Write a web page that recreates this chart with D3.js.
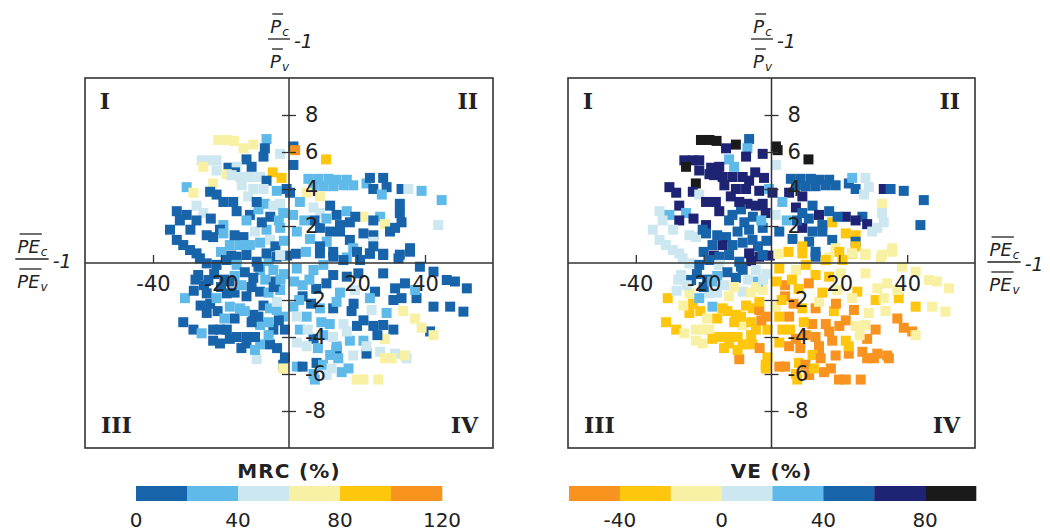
<!DOCTYPE html>
<html><head><meta charset="utf-8">
<script src="https://cdn.jsdelivr.net/npm/d3@7"></script>
<style>body{margin:0;background:#fff}svg{display:block}</style>
</head><body><svg id="c" width="1050" height="531"></svg>
<script>
// ---- data: [x (PE ratio -1, %), y (P ratio -1, %), MRC %, VE %] ----
const pointsQ1 = [[-20.8,6.65,70,90],[-18.3,6.65,70,90],[-16.2,6.6,70,90],[-13.4,6.2,70,70],[-10.5,6.4,70,90],[-6.6,6.7,30,50],[-7.1,6.2,10,30],[-2.6,5.9,50,70],[-7.5,5.75,10,70],[-12.5,5.6,10,30],[-25.7,5.55,50,70],[-23.2,5.55,50,70],[-21.3,5.55,50,70],[-25.2,5.2,70,90],[-17.8,5.15,10,70],[-15.4,5.2,50,70],[-11.0,5.2,10,30],[-21.3,5.0,50,70],[-15.9,4.9,10,70],[-4.8,4.9,90,70],[-2.2,4.6,90,70],[-18.3,4.8,70,70],[-16.9,4.75,50,70],[-14.4,4.65,50,70],[-11.5,4.65,50,70],[-8.5,4.65,50,70],[-6.6,4.45,10,70],[-22.3,4.3,70,90],[-13.9,4.2,50,70],[-30.1,4.1,30,70],[-28.1,3.8,70,70],[-10.5,4.0,50,70],[-7.5,4.0,50,70],[-23.2,3.85,10,70],[-21.3,3.7,10,10],[-3.6,3.9,30,70],[-0.7,4.0,10,30],[-19.3,3.3,10,70],[-16.4,3.3,10,70],[-27.2,3.1,50,70],[-25.2,2.7,50,30],[-7.1,3.2,30,70],[-4.6,3.1,50,70],[-2.6,3.2,50,70],[-15.4,2.8,10,70],[-11.5,2.6,10,50],[-1.7,2.7,30,70],[-33,2.8,10,10],[-30.1,2.6,10,30],[-32.1,2.3,10,10],[-27.2,2.3,10,70],[-12.5,2.3,30,50],[-19.3,2.05,30,70],[-10.0,1.7,50,50],[-6.6,1.8,30,50],[-2.6,1.9,30,50],[-33,1.25,10,10],[-31.1,0.97,10,10],[-29.1,0.7,10,10],[-27.2,0.52,10,10],[-24.2,1.5,10,10],[-22.3,1.4,10,10],[-20.3,1.8,10,50],[-13.4,1.4,10,50],[-19.3,1.6,30,50],[-5.6,1.25,50,50],[-17.4,0.97,30,50],[-14.4,0.97,30,70],[-11.5,0.97,30,50],[-9,2.9,30,50],[-5.5,2.5,10,50],[-3,2.3,30,30],[-8,2.2,10,50],[-16,1.5,10,50],[-8.5,1.1,30,50],[-4,0.9,10,50],[-1.5,1.2,30,50],[-20,0.6,30,50],[-17,0.4,10,70],[-6,0.1,30,70],[-0.5,0.4,10,70],[-26.2,0.25,10,10],[-18.3,0.16,10,50],[-15.4,0.34,10,50],[-12.5,0.43,10,50],[-9.5,0.07,10,50],[-6.6,0.52,10,70],[-3.6,0.34,10,70],[-2.6,0.43,50,50],[-12,3.6,50,70],[-9.5,3.3,10,70],[-23,2.4,10,70],[-29,1.8,10,10],[-35,1.8,10,10]];
const pointsQ2 = [[1.3,6.3,10,90],[1.8,6.1,110,90],[10.9,5.6,90,90],[1.3,5.3,10,10],[0.3,3.8,10,70],[5.7,4.55,30,50],[8.6,4.55,30,50],[11.6,4.55,30,50],[14.0,4.5,30,50],[17.0,4.5,30,50],[7.2,4.2,30,50],[10.1,4.15,30,50],[13.0,4.15,30,50],[16.0,4.2,30,50],[18.9,4.2,30,50],[22.8,4.3,30,50],[23.8,4.6,10,30],[27.7,4.6,10,10],[24.8,4.0,10,50],[28.7,4.1,10,10],[33.1,4.0,10,70],[35.1,4.0,50,50],[39.0,3.9,30,50],[44.9,3.4,30,50],[5.2,3.8,70,70],[9.1,3.6,70,70],[27.3,3.7,30,10],[32.6,3.2,10,-10],[32.6,2.7,10,10],[33.1,2.2,10,10],[3.2,3.3,30,30],[7.2,3.0,50,70],[9.1,2.7,50,50],[12.1,3.1,10,50],[14.0,2.6,10,70],[17.0,2.8,30,50],[21.9,2.5,70,70],[26.8,2.5,30,50],[24.8,2.3,10,70],[28.2,2.1,70,70],[17.9,2.2,10,-30],[15.0,2.05,10,50],[43.9,2.05,50,50],[2.3,1.7,30,50],[6.2,1.3,30,50],[11.1,1.15,30,50],[9.1,1.9,10,70],[12.1,1.7,10,50],[15.0,1.7,10,50],[17.9,1.25,10,50],[21.9,1.6,10,-30],[24.8,1.5,10,-30],[29.7,1.7,10,10],[31.2,1.9,10,10],[24.8,1.15,50,50],[24.8,0.9,10,-30],[35.6,0.8,10,-10],[32.6,0.45,10,-10],[27.7,0.5,10,-10],[23.8,0.5,10,-30],[13,0.6,10,50],[9.1,0.9,10,-30],[18.9,0.8,30,-10],[4.5,2.3,30,30],[1.2,2.6,30,10],[5,0.6,30,-30],[2,0.5,10,-10],[7.5,2.3,10,50],[11,2.4,30,50],[19.5,2.5,10,50],[20,0.6,10,-30],[17,0.3,30,-10],[9.1,0.52,10,-30],[13,0.34,10,50],[16,0.16,10,-30],[20.9,0.16,10,-30],[23.8,0.52,10,-10],[27.7,0.43,10,-10],[32.2,0.25,10,-10],[35.6,0.61,10,-10]];
const pointsQ3 = [[-24.2,-0.02,10,10],[-21.3,-0.1,10,50],[-15.4,-0.1,30,10],[-8.5,-0.38,30,50],[-4.6,-0.38,30,10],[-26.7,-0.65,10,10],[-23.7,-0.92,10,50],[-24.2,-1.64,10,-10],[-23.2,-2.2,10,-30],[-24.2,-2.7,10,-30],[-18.3,-1.64,10,10],[-10.5,-2.8,10,-30],[-7.5,-2.3,10,-30],[-12.5,-1.8,10,-10],[-8.5,-1.55,10,10],[-31.1,-3.2,10,-30],[-28.1,-3.6,10,-30],[-22.3,-3.6,10,-10],[-20.3,-3.6,10,-10],[-18.3,-3.6,10,-10],[-22.3,-4.2,10,-10],[-20.3,-4.35,10,-10],[-17.4,-4.1,10,-30],[-15.4,-4.0,10,-30],[-12.5,-4.0,10,-30],[-12.5,-4.35,10,-30],[-5.6,-4.4,10,-30],[-4.6,-3.6,10,-30],[-1.2,-3.6,10,-30],[-1.2,-5.1,10,-30],[-1.7,-5.5,10,-30],[-30.6,-1.9,30,-30],[-21.3,-1.9,30,30],[-17.4,-2.36,30,30],[-14.4,-2.45,30,-30],[-5.6,-2.45,30,-30],[-3.6,-2.54,30,-50],[-2.6,-1.46,30,-10],[-1.7,-2.9,30,-50],[-25.7,-3.8,30,-10],[-8.5,-4.4,30,-30],[-8.5,-3.35,30,-10],[-3.6,-2.1,50,-30],[-9.5,-5.2,50,-50],[-1.7,-5.7,70,-30],[-27.5,-0.9,10,10],[-22,-0.6,10,50],[-19,-0.9,10,50],[-16,-0.7,30,30],[-13,-0.5,10,50],[-10.5,-0.8,10,50],[-7,-0.9,30,10],[-4,-1,10,30],[-1.5,-0.6,30,10],[-26,-2.3,10,-10],[-21,-2.6,10,-30],[-19,-3.0,30,-10],[-16,-3.0,10,-30],[-13,-2.6,30,-30],[-11,-3.2,10,-30],[-9,-2.9,10,-30],[-6,-3.2,30,-30],[-3,-3.1,10,-50],[-28,-1.5,10,10],[-16,-1.6,10,10],[-14,-1.2,30,10],[-11,-1.3,10,-10],[-6,-1.6,30,-10],[-4.5,-1.3,10,-10],[-10,-4.0,10,-30],[-6,-3.9,30,-30],[-3.5,-4.6,10,-50],[-14,-4.6,10,-30],[-10,-4.7,30,-30],[-25,-1.2,10,10],[-20,-1.3,10,50],[-17.5,-1.0,10,30],[-9,-0.2,10,50],[-2.5,-0.9,30,10]];
const pointsQ4 = [[2.3,-0.3,30,-30],[7.2,-0.38,30,-10],[10.1,-0.1,30,-30],[38.5,-0.2,10,-10],[42.5,-0.47,10,-10],[46.4,-0.92,10,-10],[48.8,-1.0,10,-10],[52.3,-1.37,10,-10],[27.7,-0.56,10,-10],[13,-0.65,10,-30],[17,-0.74,10,-30],[20.4,-0.56,10,-10],[25.3,-1.55,10,-30],[31.2,-1.37,10,-10],[34.1,-1.1,10,-10],[37.5,-1.9,10,-30],[42.5,-2.36,10,-30],[47.4,-2.36,10,-10],[51.3,-2.63,10,-10],[30.7,-2.0,10,-30],[33.1,-1.9,10,-10],[41.5,-3.7,10,-50],[21.9,-3.1,10,-50],[24.8,-3.4,10,-10],[27.7,-3.35,10,-10],[30.7,-3.6,10,-50],[7.2,-4.1,10,-50],[13,-2.45,10,-50],[18.4,-2.6,10,-30],[14,-4.7,10,-50],[22.8,-4.9,10,-50],[8.1,-5.4,10,-30],[37.1,-1.46,30,-10],[23.8,-1.9,30,-10],[28.7,-2.7,30,-10],[1.3,-2.36,30,-10],[5.2,-2.9,30,-50],[9.1,-2.45,30,-30],[14,-2.1,30,-10],[3.2,-3.6,30,-30],[10.1,-3.9,30,-50],[17.9,-4.2,30,-50],[21.9,-4.2,30,-30],[14,-4.5,30,-50],[12.1,-4.97,30,-30],[14.5,-5.15,30,-50],[2.3,-5.6,30,-50],[7.2,-6.0,30,-30],[7.6,-6.3,30,-30],[15.5,-5.9,30,-50],[19.4,-1.46,50,-10],[24.3,-2.54,50,-50],[2.3,-2.9,50,-30],[13,-4.0,50,-50],[17,-3.7,50,-50],[22.8,-4.5,50,-30],[18.9,-5.0,50,-50],[26.8,-4.8,50,-50],[31.2,-4.9,50,-50],[34.6,-5.15,50,-50],[2.3,-4.3,50,-30],[5.2,-4.5,50,-50],[11.1,-6.05,50,-50],[33.6,-2.6,70,-10],[37.1,-3.0,70,-50],[39.0,-3.5,70,-50],[42.5,-3.9,70,-10],[28.2,-4.1,70,-50],[28.2,-5.15,70,-50],[30.2,-5.15,70,-50],[34.1,-5.0,70,-50],[19.9,-6.3,70,-50],[21.9,-6.3,70,-50],[26.3,-6.3,70,-50],[4,-1.2,30,-50],[8,-1.4,10,-30],[11,-1.1,10,-50],[15,-1.6,30,-30],[19,-2.2,10,-50],[4,-1.8,10,-50],[12,-3.3,30,-50],[16,-3.3,50,-50],[20,-3.4,10,-50],[26,-3.9,10,-10],[8.5,-4.6,30,-50],[4,-5.6,10,-50],[10,-5.5,30,-50],[12.5,-5.7,50,-30],[17.5,-5.7,30,-50],[1.5,-1.0,30,-30],[6,-0.9,30,-30],[3,-2.0,30,-30],[6.5,-2.2,10,-50],[9.5,-3.2,30,-30],[5.5,-3.6,50,-30]];

const xTicks = [-40,-20,20,40];
const yTicks = [-8,-6,-4,-2,2,4,6,8];
const quadrantLabels = ["I","II","III","IV"];
const mrcBreaks = [20,40,60,80,100];
const mrcColors = ["#1864aa","#5fbae9","#cce7f0","#f8f0a2","#fec60c","#f7931e"];
const mrcLegendTicks = [0,40,80,120];
const veBreaks = [-40,-20,0,20,40,60,80];
const veColors = ["#f7931e","#fec60c","#f8f0a2","#cce7f0","#5fbae9","#1864aa","#1e2473","#1a1a1a"];
const veLegendTicks = [-40,0,40,80];

const allPoints = pointsQ1.concat(pointsQ2, pointsQ3, pointsQ4);
const svg = d3.select("#c");
const FONT = "'DejaVu Sans', Verdana, sans-serif";
const INK = "#222";
const fmt = d => String(d);

function panel(opt){
  const x = d3.scaleLinear().domain([-60,60]).range([opt.left, opt.right]);
  const y = d3.scaleLinear().domain([-10,10]).range([448,78]);
  const color = d3.scaleThreshold().domain(opt.breaks).range(opt.colors);
  const g = svg.append("g");
  const S = 10;
  g.selectAll("rect.pt").data(allPoints).join("rect").attr("class","pt")
    .attr("x", d=>x(d[0])-S/2).attr("y", d=>y(d[1])-S/2)
    .attr("width",S).attr("height",S).attr("fill", d=>color(d[opt.idx]));
  g.append("rect").attr("x",opt.left).attr("y",78).attr("width",opt.right-opt.left).attr("height",370)
    .attr("fill","none").attr("stroke","#333").attr("stroke-width",1.6);
  g.append("line").attr("x1",opt.left).attr("x2",opt.right).attr("y1",y(0)).attr("y2",y(0)).attr("stroke","#333").attr("stroke-width",1.5);
  g.append("line").attr("x1",x(0)).attr("x2",x(0)).attr("y1",78).attr("y2",448).attr("stroke","#333").attr("stroke-width",1.5);
  const xa = g.append("g").attr("transform",`translate(0,${y(0)})`)
    .call(d3.axisBottom(x).tickValues(xTicks).tickSizeInner(-8).tickSizeOuter(0).tickPadding(13).tickFormat(fmt));
  xa.select(".domain").remove();
  xa.selectAll("line").attr("stroke","#333").attr("stroke-width",1.3);
  xa.selectAll("text").attr("font-family",FONT).attr("font-size",21).attr("fill",INK);
  const ya = g.append("g").attr("transform",`translate(${x(0)},0)`)
    .call(d3.axisRight(y).tickValues(yTicks).tickSizeInner(7).tickSizeOuter(0).tickPadding(9).tickFormat(fmt));
  ya.select(".domain").remove();
  ya.selectAll("line").attr("x1",-7).attr("stroke","#333").attr("stroke-width",1.3);
  ya.selectAll("text").attr("font-family",FONT).attr("font-size",21).attr("fill",INK);
  const qf = "'DejaVu Serif', serif";
  const ql = [[opt.left+20,109,"middle"],[opt.right-15,109,"end"],[opt.left+16,433,"start"],[opt.right-15,433,"end"]];
  ql.forEach((q,i)=>g.append("text").attr("x",q[0]).attr("y",q[1]).attr("text-anchor",q[2])
    .attr("font-family",qf).attr("font-weight","bold").attr("font-size",22).attr("fill",INK).text(quadrantLabels[i]));
  const lx = d3.scaleLinear().domain(opt.legDomain).range([opt.legLeft, opt.legRight]);
  const edges = [opt.legDomain[0]].concat(opt.breaks, [opt.legDomain[1]]);
  g.selectAll("rect.leg").data(opt.colors).join("rect").attr("class","leg")
    .attr("x",(d,i)=>lx(edges[i])).attr("width",(d,i)=>lx(edges[i+1])-lx(edges[i])+0.3)
    .attr("y",486).attr("height",15).attr("fill",d=>d);
  g.selectAll("text.lt").data(opt.legTicks).join("text").attr("class","lt")
    .attr("x",d=>lx(d)).attr("y",527).attr("text-anchor","middle")
    .attr("font-family",FONT).attr("font-size",20).attr("fill",INK).text(fmt);
  g.append("text").attr("x",x(0)).attr("y",478).attr("text-anchor","middle")
    .attr("font-family",FONT).attr("font-weight","bold").attr("font-size",20).attr("letter-spacing",1.2)
    .attr("fill",INK).text(opt.title);
  return {x,y};
}

function fraction(cx, barY, main, subN, subD){
  const g = svg.append("g");
  const fs = 18, fsSub = 12;
  function part(base, sub){
    const t = g.append("text").attr("y",base).attr("font-family",FONT).attr("font-style","italic")
      .attr("font-size",fs).attr("fill",INK).text(main);
    const s = g.append("text").attr("y",base+3).attr("font-family",FONT).attr("font-style","italic")
      .attr("font-size",fsSub).attr("fill",INK).text(sub);
    const w1 = t.node().getComputedTextLength(), w2 = s.node().getComputedTextLength();
    const x0 = cx - (w1+w2)/2;
    t.attr("x",x0); s.attr("x",x0+w1+1);
    g.append("line").attr("x1",x0+2).attr("x2",x0+w1+2).attr("y1",base-19).attr("y2",base-19)
      .attr("stroke",INK).attr("stroke-width",1.3);
    return w1+w2;
  }
  const wn = part(barY-6, subN);
  const wd = part(barY+29, subD);
  const w = Math.max(wn,wd)+4;
  g.append("line").attr("x1",cx-w/2).attr("x2",cx+w/2).attr("y1",barY).attr("y2",barY)
    .attr("stroke",INK).attr("stroke-width",1.3);
  g.append("text").attr("x",cx+w/2+4).attr("y",barY+9).attr("font-family",FONT).attr("font-style","italic")
    .attr("font-size",19).attr("fill",INK).text("-1");
}

panel({left:85,right:493,idx:2,breaks:mrcBreaks,colors:mrcColors,legDomain:[0,120],legLeft:136,legRight:442,legTicks:mrcLegendTicks,title:"MRC (%)"});
panel({left:568,right:975,idx:3,breaks:veBreaks,colors:veColors,legDomain:[-60,100],legLeft:569,legRight:976,legTicks:veLegendTicks,title:"VE (%)"});

fraction(279, 39, "P", "c", "v");
fraction(762, 39, "P", "c", "v");
fraction(32, 259, "PE", "c", "v");
fraction(1004, 262, "PE", "c", "v");
</script></body></html>
